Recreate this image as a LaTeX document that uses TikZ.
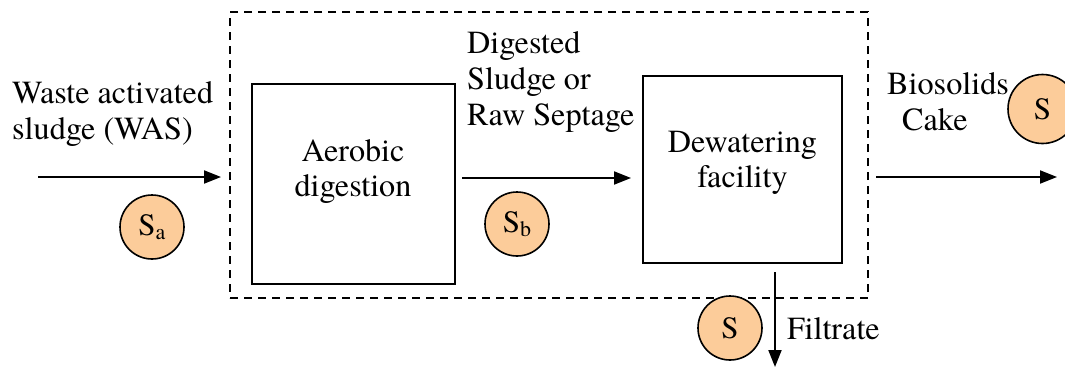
\documentclass[tikz,border=0pt]{standalone}
\usepackage{fontspec}
\setmainfont{texgyretermes}[Extension=.otf, UprightFont=*-regular]
\usetikzlibrary{arrows.meta}
\definecolor{sfill}{RGB}{252,204,154}
\tikzset{
  procbox/.style={draw, line width=2pt, rectangle, inner sep=0pt},
  flow/.style={line width=2pt, -{Triangle[length=17pt,width=13pt]}},
  scircle/.style={draw, line width=1.6pt, circle, fill=sfill, minimum size=64pt, inner sep=0pt, font=\fontsize{31}{34}\selectfont},
  lbl/.style={align=left, inner sep=0pt, font=\fontsize{32.2}{36}\selectfont},
  ctxt/.style={align=center, inner sep=0pt, font=\fontsize{32.2}{35}\selectfont}
}
\newcommand{\sslab}[1]{S\raisebox{-0.3ex}{\fontsize{22}{24}\selectfont #1}}
\begin{document}
\begin{tikzpicture}[x=1pt,y=-1pt]
\useasboundingbox (0,0) rectangle (1065,368);
\clip (0,0) rectangle (1065,368);
% system boundary
\node (bound) [draw, dash pattern=on 8pt off 6pt, line width=1.6pt, minimum width=638pt, minimum height=286pt, inner sep=0pt] at (549,155) {};
% boxes
\node (aer) [procbox, minimum width=203pt, minimum height=200pt] at (353.5,184) {};
\node (aertxt) [ctxt, anchor=north] at (353,139) {Aerobic\\digestion};
\node (dew) [procbox, minimum width=199pt, minimum height=187pt] at (742.5,169.5) {};
\node (dewtxt) [ctxt, anchor=north] at (742.5,131) {Dewatering\\facility};
% coordinates
\coordinate (inA) at (38,177);
\coordinate (inB) at (221,177);
\coordinate (mA) at (462,178);
\coordinate (mB) at (631,178);
\coordinate (oA) at (876,177);
\coordinate (oB) at (1057,177);
\coordinate (fA) at (775,272);
\coordinate (fB) at (775,367);
% flows
\draw[flow] (inA) -- (inB);
\draw[flow] (mA) -- (mB);
\draw[flow] (oA) -- (oB);
\draw[flow] (fA) -- (fB);
% labels
\node (was) [lbl, anchor=north west] at (12,81) {Waste activated\\sludge (WAS)};
\node (dig) [lbl, anchor=north west] at (467,31) {Digested\\Sludge or\\Raw Septage};
\node (bio) [lbl, anchor=north west] at (887,72) {Biosolids\\\hspace*{15pt}Cake};
\node (filt) [lbl, anchor=base west] at (787,339) {Filtrate};
% sample circles
\node (sa) [scircle] at (152,227) {\sslab{a}};
\node (sb) [scircle] at (517,224) {\sslab{b}};
\node (sf) [scircle] at (730,328) {S};
\node (sc) [scircle, minimum size=69pt] at (1042.5,109) {S};
\end{tikzpicture}
\end{document}
